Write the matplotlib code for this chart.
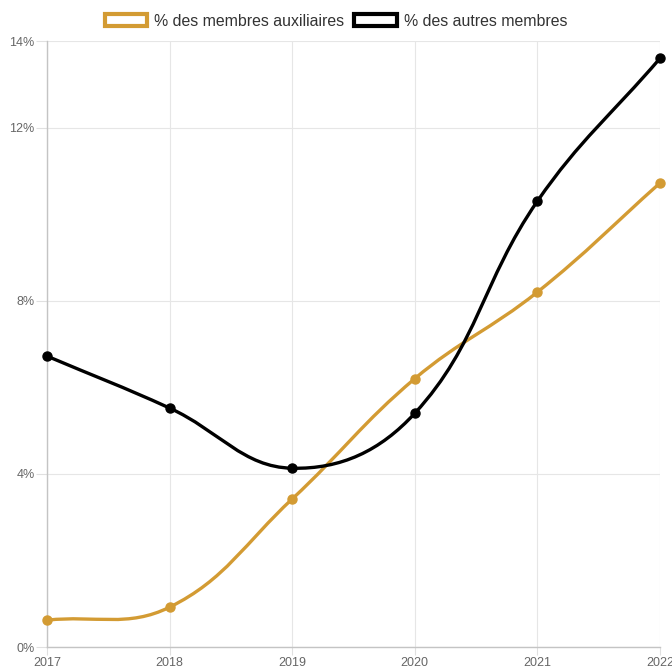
import numpy as np
import matplotlib
matplotlib.use("Agg")
import matplotlib.pyplot as plt
from matplotlib.path import Path
from matplotlib.patches import PathPatch, Patch

# Data
years = [2017, 2018, 2019, 2020, 2021, 2022]
auxiliaires = [0.62, 0.92, 3.42, 6.2, 8.2, 10.72]
autres = [6.72, 5.52, 4.13, 5.4, 10.3, 13.6]
y_ticks = [0, 4, 8, 12, 14]

gold = '#d39b33'
black = '#000000'
font = 'Liberation Sans'

fig = plt.figure(figsize=(6.72, 6.69), dpi=100)
ax = fig.add_axes([47 / 672, 1 - 647 / 669, 613 / 672, 606 / 669])
ax.set_xlim(2017, 2022)
ax.set_ylim(0, 14)

# pixel scale, used so the spline tension works like chart.js
sx = 613 / 5
sy = 606 / 14


def spline_path(xs, ys, t=0.4):
    px = np.array(xs, float) * sx
    py = np.array(ys, float) * sy
    n = len(px)
    cps = []
    for i in range(n):
        p0 = i - 1 if i > 0 else i
        p2 = i + 1 if i < n - 1 else i
        d01 = np.hypot(px[i] - px[p0], py[i] - py[p0])
        d12 = np.hypot(px[p2] - px[i], py[p2] - py[i])
        tot = d01 + d12
        s01 = d01 / tot if tot else 0
        s12 = d12 / tot if tot else 0
        fa, fb = t * s01, t * s12
        dx, dy = px[p2] - px[p0], py[p2] - py[p0]
        cps.append(((px[i] - fa * dx, py[i] - fa * dy),
                    (px[i] + fb * dx, py[i] + fb * dy)))
    verts = [(px[0], py[0])]
    codes = [Path.MOVETO]
    for i in range(1, n):
        verts += [cps[i - 1][1], cps[i][0], (px[i], py[i])]
        codes += [Path.CURVE4] * 3
    verts = [(vx / sx, vy / sy) for vx, vy in verts]
    return Path(verts, codes)


for vals, col in [(auxiliaires, gold), (autres, black)]:
    ax.add_patch(PathPatch(spline_path(years, vals), facecolor='none',
                           edgecolor=col, lw=2.4, zorder=3, clip_on=False))
    ax.plot(years, vals, 'o', color=col, ms=6.5, zorder=4, clip_on=False)

# Axes styling
for s in ['top', 'right']:
    ax.spines[s].set_visible(False)
for s in ['left', 'bottom']:
    ax.spines[s].set_color('#c4c4c4')
    ax.spines[s].set_linewidth(1)
ax.set_xticks(years)
ax.set_yticks(y_ticks)
ax.set_yticklabels([f'{v}%' for v in y_ticks])
ax.grid(True, color='#e6e6e6', lw=0.8, zorder=0)
ax.tick_params(axis='y', length=8, color='#e0e0e0', labelsize=9, labelcolor='#666666', pad=1)
ax.tick_params(axis='x', length=6, color='#e0e0e0', labelsize=9, labelcolor='#666666', pad=1)
for lab in ax.get_xticklabels() + ax.get_yticklabels():
    lab.set_fontfamily(font)

# Legend
handles = [Patch(facecolor='white', edgecolor=gold, lw=3, label='% des membres auxiliaires'),
           Patch(facecolor='white', edgecolor=black, lw=3, label='% des autres membres')]
leg = fig.legend(handles=handles, loc='center', bbox_to_anchor=(0.5, 1 - 21 / 669), ncol=2,
                 frameon=False, prop={'family': font, 'size': 11.4}, handlelength=2.7,
                 handleheight=0.8, handletextpad=0.45, columnspacing=0.6)
for txt in leg.get_texts():
    txt.set_color('#333333')

fig.savefig('out.png', dpi=100)
